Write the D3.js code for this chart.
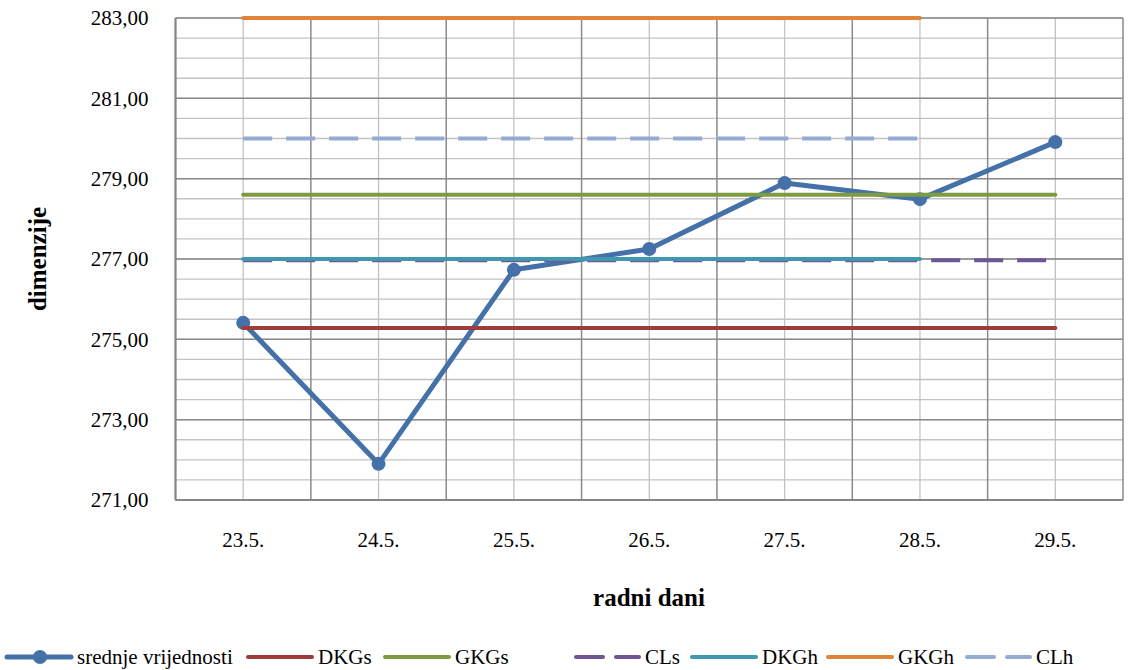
<!DOCTYPE html>
<html><head><meta charset="utf-8">
<script src="https://cdn.jsdelivr.net/npm/d3@7"></script>
</head><body style="margin:0">
<svg id="c" width="1143" height="670"></svg>
<script>
const categories = ["23.5.","24.5.","25.5.","26.5.","27.5.","28.5.","29.5."];
const srednje = [275.41, 271.90, 276.73, 277.25, 278.89, 278.49, 279.91];
const DKGs = [275.28, 275.28, 275.28, 275.28, 275.28, 275.28, 275.28];
const GKGs = [278.60, 278.60, 278.60, 278.60, 278.60, 278.60, 278.60];
const CLs  = [276.97, 276.97, 276.97, 276.97, 276.97, 276.97, 276.97];
const DKGh = [277.00, 277.00, 277.00, 277.00, 277.00, 277.00];
const GKGh = [283.00, 283.00, 283.00, 283.00, 283.00, 283.00];
const CLh  = [280.00, 280.00, 280.00, 280.00, 280.00, 280.00];
const yTicks = [271, 273, 275, 277, 279, 281, 283];
const seriesNames = ["srednje vrijednosti","DKGs","GKGs","CLs","DKGh","GKGh","CLh"];

const series = [
  {name:"srednje vrijednosti", data:srednje, color:"#4571A9", w:5, dash:null, marker:true},
  {name:"DKGs", data:DKGs, color:"#9E3C3A", w:4, dash:null},
  {name:"GKGs", data:GKGs, color:"#7D9B41", w:4, dash:null},
  {name:"CLs", data:CLs, color:"#6E5594", w:4, dash:"29,14"},
  {name:"DKGh", data:DKGh, color:"#3F97B0", w:4, dash:null},
  {name:"GKGh", data:GKGh, color:"#E0833B", w:4, dash:null},
  {name:"CLh", data:CLh, color:"#93AAD3", w:4, dash:"29,14"}
];

const svg = d3.select("#c");
const L=175.5, R=1123, T=18, B=500;
const x = d3.scaleBand().domain(categories).range([L,R]).padding(0);
const y = d3.scaleLinear().domain([271,283]).range([B,T]);
const g = svg.append("g");

const minor = d3.range(271, 283.001, 0.5);
g.append("g").selectAll("line").data(minor).join("line")
  .attr("x1",L).attr("x2",R).attr("y1",d=>y(d)).attr("y2",d=>y(d))
  .attr("stroke","#c3c3c3").attr("stroke-width",1.3);
g.append("g").selectAll("line").data(categories).join("line")
  .attr("x1",d=>x(d)+x.bandwidth()/2).attr("x2",d=>x(d)+x.bandwidth()/2)
  .attr("y1",T).attr("y2",B).attr("stroke","#c3c3c3").attr("stroke-width",1.3);
g.append("g").selectAll("line").data(yTicks).join("line")
  .attr("x1",L).attr("x2",R).attr("y1",d=>y(d)).attr("y2",d=>y(d))
  .attr("stroke","#8a8a8a").attr("stroke-width",1.5);
const bounds = categories.map(d=>x(d)).concat([R]);
g.append("g").selectAll("line").data(bounds).join("line")
  .attr("x1",d=>d).attr("x2",d=>d).attr("y1",T).attr("y2",B)
  .attr("stroke","#8a8a8a").attr("stroke-width",1.5);

g.append("line").attr("x1",L).attr("x2",L).attr("y1",T).attr("y2",B).attr("stroke","#868686").attr("stroke-width",2);
g.append("line").attr("x1",L).attr("x2",R).attr("y1",B).attr("y2",B).attr("stroke","#868686").attr("stroke-width",2);

g.append("g").selectAll("text").data(yTicks).join("text")
  .attr("x",L-27).attr("y",d=>y(d)).attr("dy","0.35em").attr("text-anchor","end")
  .style("font-family",'"Times New Roman"').style("font-size","21px").attr("fill","#000")
  .text(d=>d3.format(".2f")(d).replace(".",","));
g.append("g").selectAll("text").data(categories).join("text")
  .attr("x",d=>x(d)+x.bandwidth()/2).attr("y",B+47).attr("text-anchor","middle")
  .style("font-family",'"Times New Roman"').style("font-size","21px").attr("fill","#000")
  .text(d=>d);

const cx = (d,i)=>x(categories[i])+x.bandwidth()/2;
const line = d3.line().x(cx).y(d=>y(d));
series.forEach(s=>{
  const p = g.append("path").datum(s.data).attr("d",line)
    .attr("fill","none").attr("stroke",s.color).attr("stroke-width",s.w)
    .attr("stroke-linejoin","round").attr("stroke-linecap","round");
  if(s.dash){p.attr("stroke-dasharray",s.dash).attr("stroke-linecap","butt");}
  if(s.marker){
    g.append("g").selectAll("circle").data(s.data).join("circle")
      .attr("cx",cx).attr("cy",d=>y(d)).attr("r",7).attr("fill",s.color);
  }
});

svg.append("text").attr("x",649).attr("y",606).attr("text-anchor","middle")
  .style("font-family",'"Times New Roman"').style("font-weight","bold").style("font-size","25px")
  .text("radni dani");
svg.append("text").attr("transform","translate(46,259) rotate(-90)").attr("text-anchor","middle")
  .style("font-family",'"Times New Roman"').style("font-weight","bold").style("font-size","25px")
  .text("dimenzije");

const legX = [7, 248, 385, 575, 692, 828, 966];
const legY = 657;
const lg = svg.append("g");
series.forEach((s,i)=>{
  const x0 = legX[i];
  if(s.dash){
    lg.append("line").attr("x1",x0+1).attr("x2",x0+28).attr("y1",legY).attr("y2",legY)
      .attr("stroke",s.color).attr("stroke-width",s.w).attr("stroke-linecap","round");
    lg.append("line").attr("x1",x0+41).attr("x2",x0+64).attr("y1",legY).attr("y2",legY)
      .attr("stroke",s.color).attr("stroke-width",s.w).attr("stroke-linecap","round");
  } else {
    lg.append("line").attr("x1",x0).attr("x2",x0+64).attr("y1",legY).attr("y2",legY)
      .attr("stroke",s.color).attr("stroke-width",s.w).attr("stroke-linecap","round");
  }
  if(s.marker){
    lg.append("circle").attr("cx",x0+33).attr("cy",legY).attr("r",7).attr("fill",s.color);
  }
  lg.append("text").attr("x",x0+70).attr("y",legY).attr("dy","0.35em")
    .style("font-family",'"Times New Roman"').style("font-size","21px").attr("fill","#000")
    .text(seriesNames[i]);
});
</script>
</body></html>
